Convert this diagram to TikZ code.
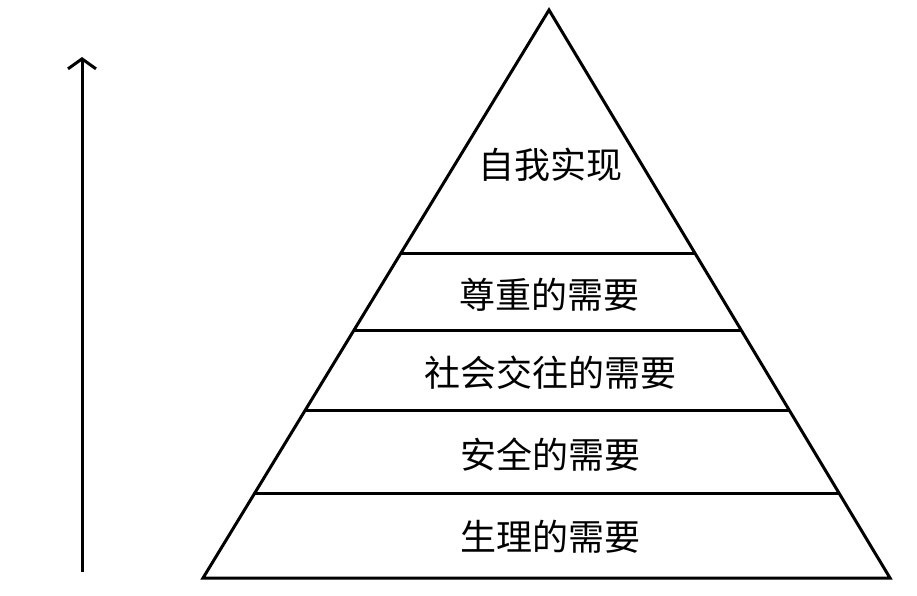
\documentclass[tikz,border=0pt]{standalone}
\usepackage{fontspec}
\newfontfamily\cjk{Noto Sans CJK SC}
\usetikzlibrary{arrows.meta,calc}
\begin{document}
\begin{tikzpicture}[x=1pt,y=-1pt,line width=3pt,
  lbl/.style={font=\cjk\fontsize{36}{40}\selectfont,inner sep=0pt}]
\useasboundingbox (0,0) rectangle (917,595);
\coordinate (A) at (549,10);
\coordinate (L) at (203,578);
\coordinate (R) at (890,578);
\draw[line join=miter] (A) -- (L) -- (R) -- cycle;
\foreach \y in {253,330,410,493}{
  \draw ($(A)!{(\y-10)/568}!(L)$) -- ($(A)!{(\y-10)/568}!(R)$);
}
\node[lbl] (t1) at (550,165) {自我实现};
\node[lbl] (t2) at (549,295) {尊重的需要};
\node[lbl] (t3) at (550,373) {社会交往的需要};
\node[lbl] (t4) at (550,455) {安全的需要};
\node[lbl] (t5) at (550,537) {生理的需要};
\coordinate (b) at (82,572);
\coordinate (t) at (82,57);
\draw[-{Straight Barb[length=10pt,width=28pt]}] (b) -- (t);
\end{tikzpicture}
\end{document}
